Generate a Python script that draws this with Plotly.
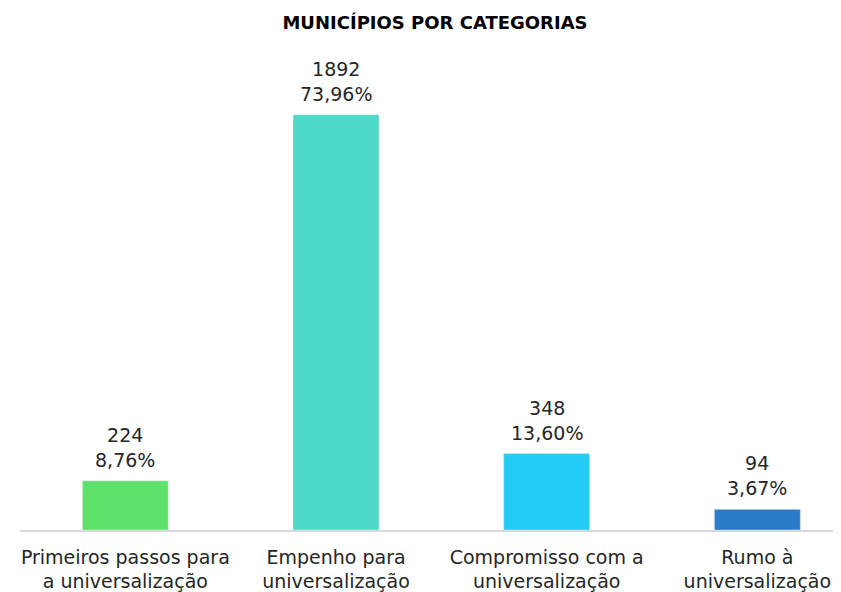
import plotly.graph_objects as go

categories = ["Primeiros passos para<br>a universalização", "Empenho para<br>universalização",
              "Compromisso com a<br>universalização", "Rumo à<br>universalização"]
counts = [224, 1892, 348, 94]
percents = ["8,76%", "73,96%", "13,60%", "3,67%"]
colors = ["#5EE26B", "#4DD9C8", "#22CCF5", "#2A7BC8"]

FONT = "DejaVu Sans"
OFF = 8  # page body margin
labels = [f"{c}<br>{p}" for c, p in zip(counts, percents)]

fig = go.Figure(go.Bar(
    x=categories, y=counts, marker_color=colors, width=0.408,
    hoverinfo="skip",
))

for cat, val, lab in zip(categories, counts, labels):
    fig.add_annotation(x=cat, y=val, text=lab, showarrow=False, yanchor="bottom",
                       yshift=8, font=dict(family=FONT, size=19, color="#262626"))

W, H = 841 - OFF, 592 - OFF
fig.update_layout(
    width=W, height=H,
    margin=dict(l=20 - OFF, r=0, t=69 - OFF, b=62),
    paper_bgcolor="white", plot_bgcolor="white",
    title=dict(text="<b>MUNICÍPIOS POR CATEGORIAS</b>", x=(435 - OFF) / W, xanchor="center",
               y=1 - (23 - OFF) / H, yanchor="middle",
               font=dict(family=FONT, size=18, color="#000000")),
    showlegend=False,
    xaxis=dict(range=[-0.5, 3.397], showline=True, linecolor="#D9D9D9", linewidth=1.5,
               ticks="", ticklabelstandoff=9,
               tickfont=dict(family=FONT, size=19, color="#262626"), fixedrange=True),
    yaxis=dict(range=[0, 2100], visible=False, showgrid=False),
)

fig.write_html("out.html")
